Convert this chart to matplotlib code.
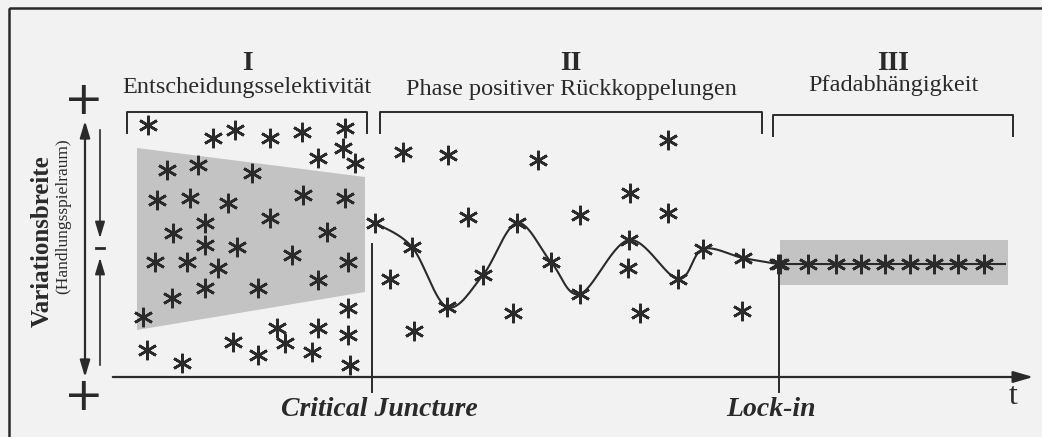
import numpy as np
import matplotlib
matplotlib.use("Agg")
import matplotlib.pyplot as plt
from matplotlib.patches import Polygon, Rectangle

# --- data (picture coordinates, y grows downwards) ---
# phase I: scattered decisions
phase1_x = [148, 213, 235, 270, 302, 345, 343, 318, 355, 167, 198, 252, 157, 190, 228, 303,
            345, 205, 270, 173, 205, 237, 327, 155, 187, 218, 292, 348, 205, 258, 318, 172,
            143, 348, 277, 318, 348, 233, 285, 147, 312, 182, 258, 350]
phase1_y = [125, 138, 130, 138, 132, 128, 148, 158, 163, 170, 165, 173, 200, 198, 203, 195,
            198, 223, 218, 233, 245, 247, 232, 262, 262, 268, 255, 262, 288, 288, 280, 298,
            317, 308, 328, 328, 335, 342, 343, 350, 352, 363, 355, 365]
# phase I shaded corridor (narrowing)
corridor1_x = [137, 365, 365, 137]
corridor1_y = [148, 177, 292, 330]

# phase II: path along the curve
path_x = [375, 412, 447, 483, 517, 551, 580, 629, 678, 703, 743, 778]
path_y = [223, 247, 307, 275, 223, 262, 294, 240, 279, 249, 258, 264]
# phase II: scattered alternatives
phase2_x = [403, 448, 538, 668, 630, 580, 668, 468, 390, 414, 513, 628, 640, 742]
phase2_y = [152, 155, 160, 140, 193, 215, 213, 217, 279, 331, 313, 268, 313, 311]

# phase III: locked-in path
lock_x = [780, 808, 836, 861, 885, 910, 934, 958, 984]
lock_level = 264
lock_end = 1005
corridor3 = (780, 240, 1008, 285)

phases = ["I", "II", "III"]
phase_names = ["Entscheidungsselektivität", "Phase positiver Rückkoppelungen", "Pfadabhängigkeit"]
bracket_x = [(127, 367), (380, 762), (773, 1013)]
bracket_top = [112, 112, 115]
name_y = [88, 89, 85]

SERIF = "Liberation Serif"
ink = "#2a2a2a"
star = dict(marker=(6, 2, 0), markersize=14, markeredgewidth=1.9, color=ink, linestyle="none")


def smooth(xs, ys, n=30):
    # Catmull-Rom curve through the given points (for drawing the line only)
    p = np.column_stack([xs, ys]).astype(float)
    p = np.vstack([p[0], p, p[-1]])
    out = []
    for i in range(1, len(p) - 2):
        p0, p1, p2, p3 = p[i - 1], p[i], p[i + 1], p[i + 2]
        t = np.linspace(0, 1, n)[:, None]
        seg = 0.5 * ((2 * p1) + (-p0 + p2) * t + (2 * p0 - 5 * p1 + 4 * p2 - p3) * t ** 2
                     + (-p0 + 3 * p1 - 3 * p2 + p3) * t ** 3)
        out.append(seg)
    out = np.vstack(out)
    return out[:, 0], out[:, 1]


fig = plt.figure(figsize=(10.42, 4.37), dpi=100)
fig.patch.set_facecolor("#f2f2f2")
ax = fig.add_axes([0, 0, 1, 1])
ax.set_xlim(0, 1042)
ax.set_ylim(437, 0)
ax.axis("off")

# frame
ax.add_patch(Rectangle((9, 8), 1060, 440, fill=False, lw=1.8, ec=ink))

# shaded corridors
ax.add_patch(Polygon(list(zip(corridor1_x, corridor1_y)), closed=True, fc="#c3c3c3", ec="none"))
ax.add_patch(Rectangle((corridor3[0], corridor3[1]), corridor3[2] - corridor3[0],
                       corridor3[3] - corridor3[1], fc="#c3c3c3", ec="none"))

# brackets and headings
for lab, name, (x0, x1), top, ny in zip(phases, phase_names, bracket_x, bracket_top, name_y):
    ax.plot([x0, x0, x1, x1], [top + 21, top, top, top + 21], color=ink, lw=1.4)
    xc = (x0 + x1) / 2
    ax.text(xc, 64, lab, ha="center", va="center", fontsize=20, fontweight="bold",
            family=SERIF, color=ink)
    ax.text(xc, ny, name, ha="center", va="center", fontsize=17.5, family=SERIF, color=ink)

# axes
ax.annotate("", xy=(1036, 377), xytext=(110, 377),
            arrowprops=dict(arrowstyle="-|>,head_length=1.2,head_width=0.35", lw=1.6, color=ink))
ax.text(1013, 396, "t", ha="center", va="center", fontsize=23, family=SERIF, color=ink)
ax.annotate("", xy=(85, 118), xytext=(85, 380),
            arrowprops=dict(arrowstyle="<|-|>,head_length=1.0,head_width=0.3", lw=1.6, color=ink))
ax.annotate("", xy=(100, 241), xytext=(100, 127),
            arrowprops=dict(arrowstyle="-|>,head_length=1.0,head_width=0.3", lw=1.2, color=ink))
ax.annotate("", xy=(100, 255), xytext=(100, 368),
            arrowprops=dict(arrowstyle="-|>,head_length=1.0,head_width=0.3", lw=1.2, color=ink))
ax.plot([96, 104], [248, 248], color=ink, lw=2)
ax.text(84, 102, "+", ha="center", va="center", fontsize=34, family="DejaVu Sans", color=ink)
ax.text(84, 398, "+", ha="center", va="center", fontsize=34, family="DejaVu Sans", color=ink)
ax.text(42, 241, "Variationsbreite", rotation=90, ha="center", va="center", fontsize=18,
        fontweight="bold", family=SERIF, color=ink)
ax.text(63, 216, "(Handlungsspielraum)", rotation=90, ha="center", va="center", fontsize=12.5,
        family=SERIF, color=ink)

# critical juncture and lock-in markers
ax.plot([372, 372], [244, 392], color=ink, lw=1.4)
ax.plot([779, 779], [266, 392], color=ink, lw=1.4)
ax.text(379, 410, "Critical Juncture", ha="center", va="center", fontsize=20,
        fontweight="bold", fontstyle="italic", family=SERIF, color=ink)
ax.text(771, 410, "Lock-in", ha="center", va="center", fontsize=20,
        fontweight="bold", fontstyle="italic", family=SERIF, color=ink)

# curve through path points and locked-in line
cx, cy = smooth(path_x, path_y)
ax.plot(cx, cy, color=ink, lw=1.5)
ax.plot([lock_x[0], lock_end], [lock_level, lock_level], color=ink, lw=1.5)

# stars
ax.plot(phase1_x, phase1_y, **star)
ax.plot(phase2_x, phase2_y, **star)
ax.plot(path_x, path_y, **star)
ax.plot(lock_x, [lock_level] * len(lock_x), **star)

fig.savefig("out.png", dpi=100, facecolor=fig.get_facecolor())
